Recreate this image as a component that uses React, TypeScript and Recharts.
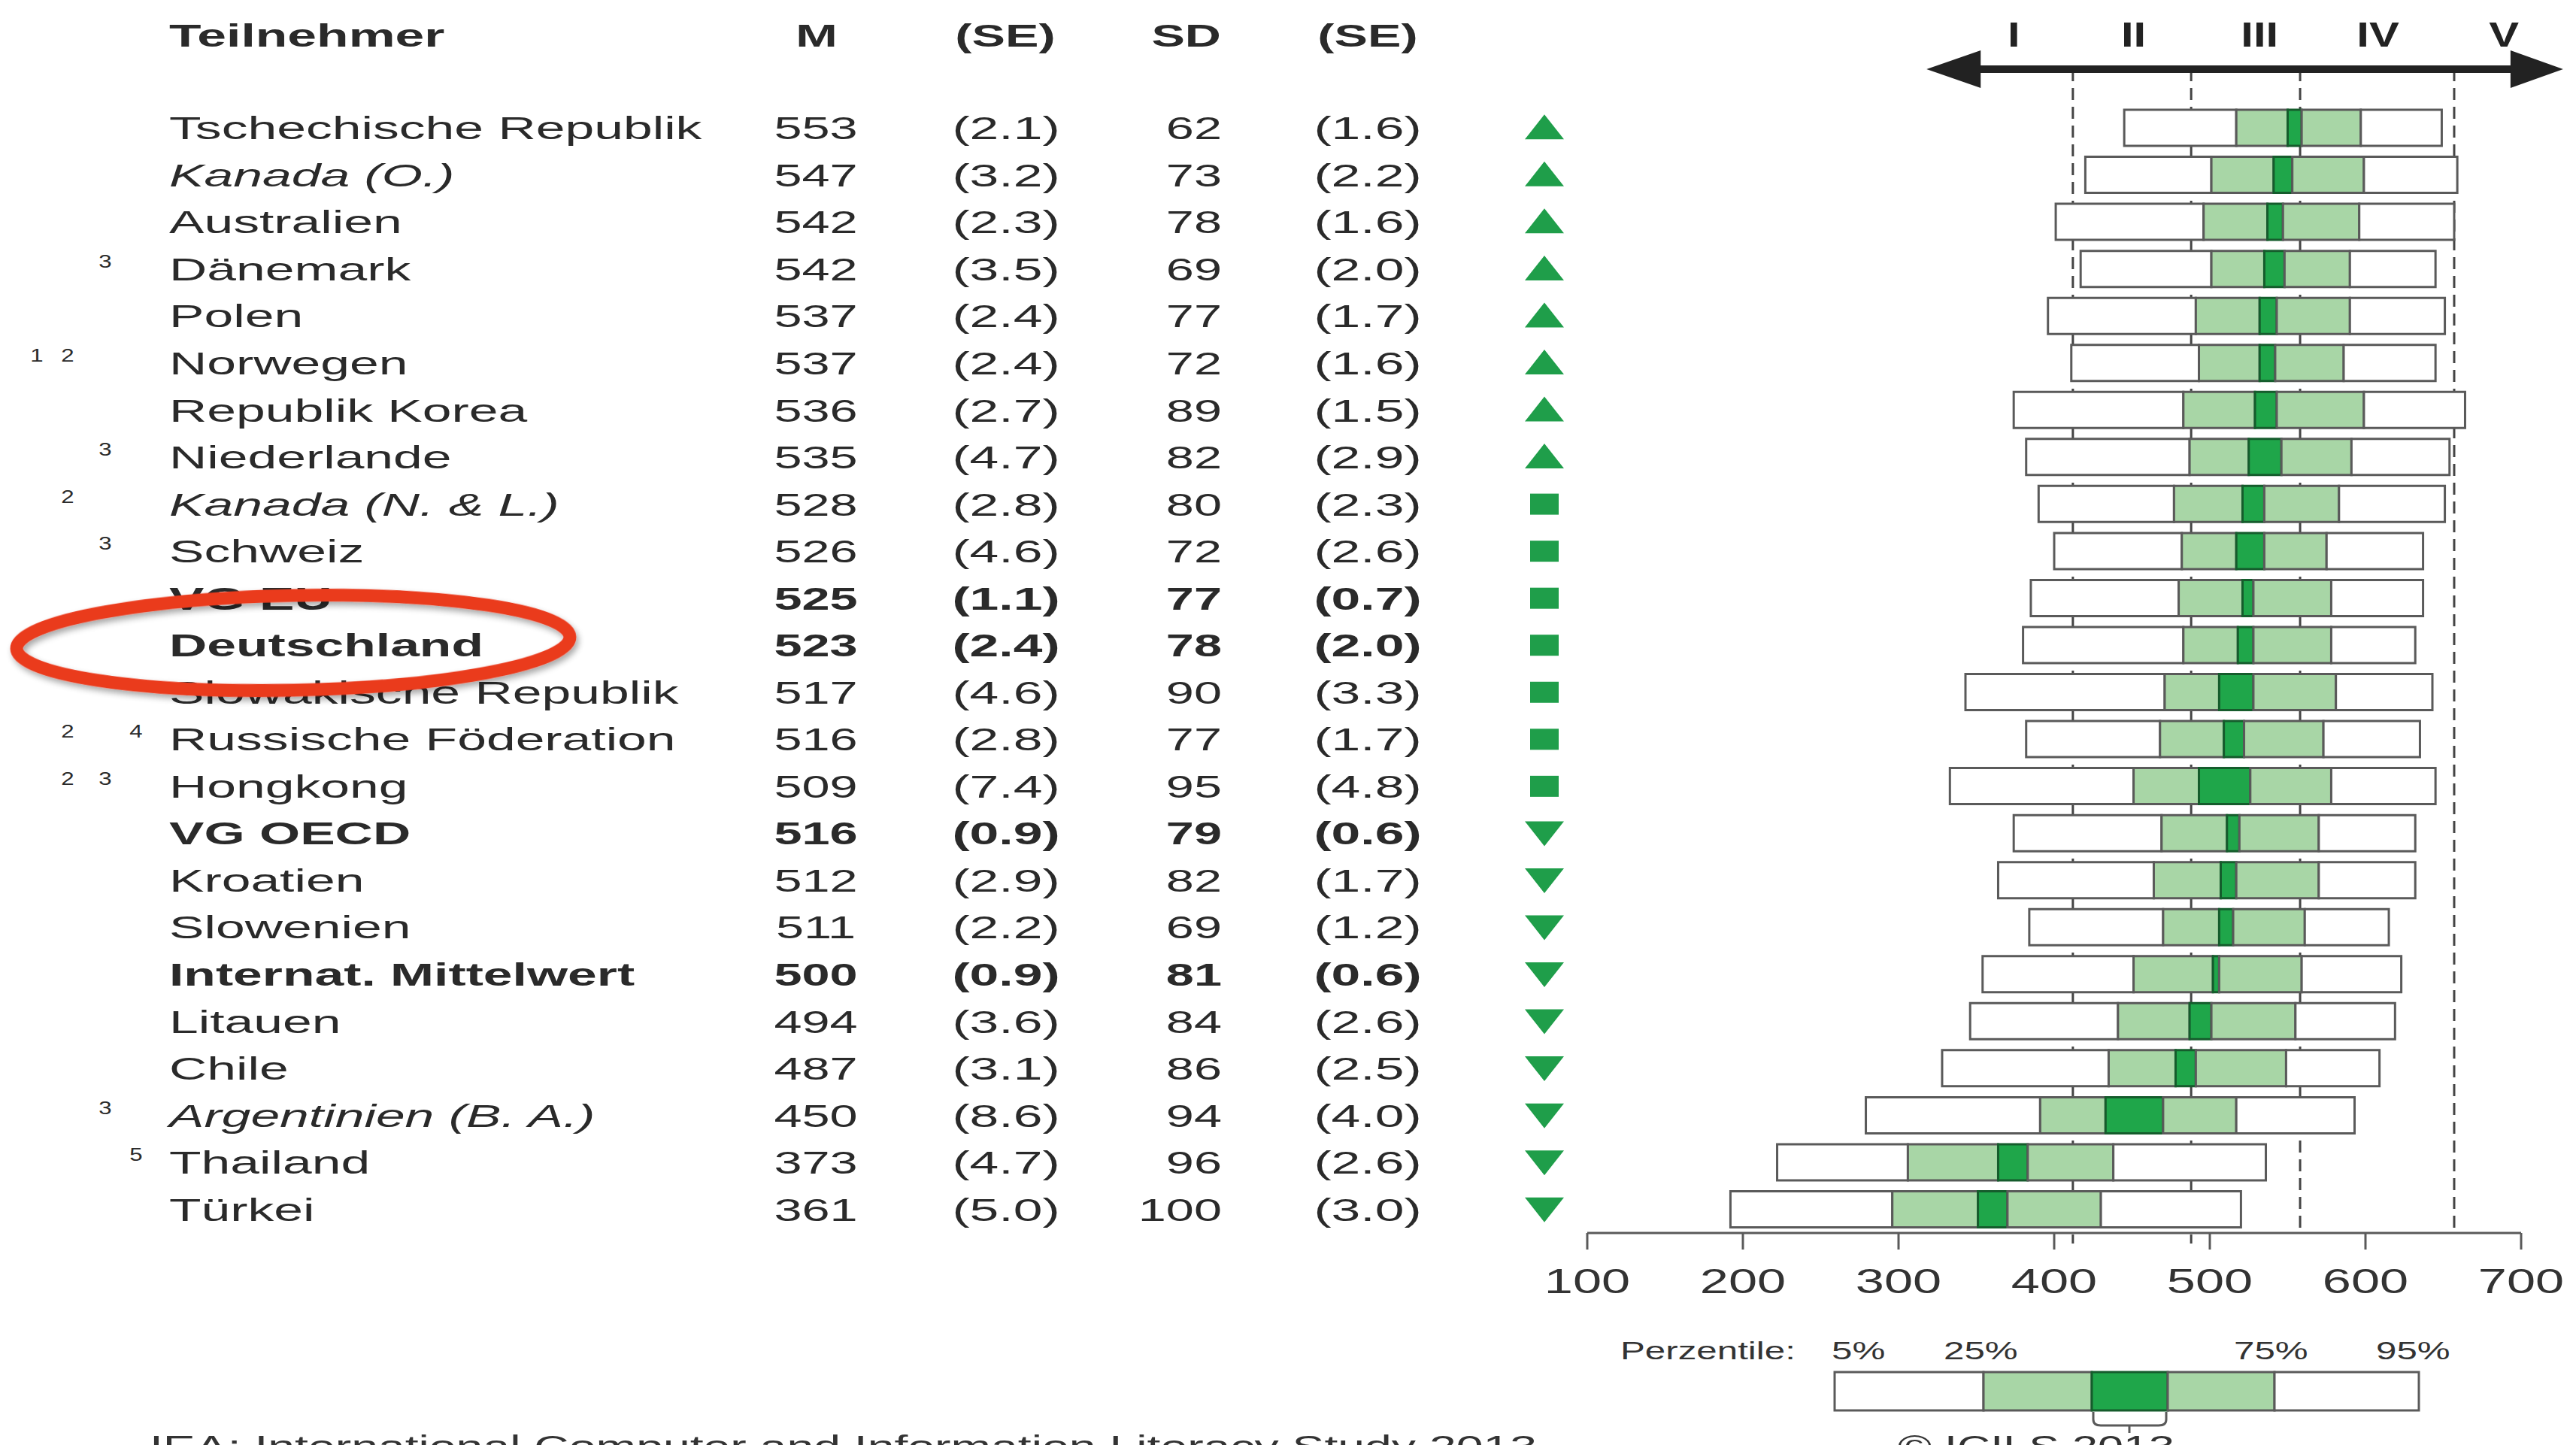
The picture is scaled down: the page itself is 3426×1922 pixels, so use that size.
import React from 'react';
import { BarChart, Bar, XAxis, YAxis, ReferenceLine, ReferenceArea } from 'recharts';

// ---------- data ----------
const countries = [
  'Tschechische Republik', 'Kanada (O.)', 'Australien', 'Dänemark', 'Polen', 'Norwegen',
  'Republik Korea', 'Niederlande', 'Kanada (N. & L.)', 'Schweiz', 'VG EU', 'Deutschland',
  'Slowakische Republik', 'Russische Föderation', 'Hongkong', 'VG OECD', 'Kroatien',
  'Slowenien', 'Internat. Mittelwert', 'Litauen', 'Chile', 'Argentinien (B. A.)', 'Thailand', 'Türkei',
];
const footnotes = ['', '', '', '3', '', '1 2', '', '3', '2', '3', '', '', '', '2 4', '2 3', '', '', '', '', '', '', '3', '5', ''];
const textStyles = ['n', 'i', 'n', 'n', 'n', 'n', 'n', 'n', 'i', 'n', 'b', 'b', 'n', 'n', 'n', 'b', 'n', 'n', 'b', 'n', 'n', 'i', 'n', 'n'];
const meanValues = [553, 547, 542, 542, 537, 537, 536, 535, 528, 526, 525, 523, 517, 516, 509, 516, 512, 511, 500, 494, 487, 450, 373, 361];
const meanSE = [2.1, 3.2, 2.3, 3.5, 2.4, 2.4, 2.7, 4.7, 2.8, 4.6, 1.1, 2.4, 4.6, 2.8, 7.4, 0.9, 2.9, 2.2, 0.9, 3.6, 3.1, 8.6, 4.7, 5.0];
const sdValues = [62, 73, 78, 69, 77, 72, 89, 82, 80, 72, 77, 78, 90, 77, 95, 79, 82, 69, 81, 84, 86, 94, 96, 100];
const sdSE = [1.6, 2.2, 1.6, 2.0, 1.7, 1.6, 1.5, 2.9, 2.3, 2.6, 0.7, 2.0, 3.3, 1.7, 4.8, 0.6, 1.7, 1.2, 0.6, 2.6, 2.5, 4.0, 2.6, 3.0];
const trend = ['up', 'up', 'up', 'up', 'up', 'up', 'up', 'up', 'eq', 'eq', 'eq', 'eq', 'eq', 'eq', 'eq', 'down', 'down', 'down', 'down', 'down', 'down', 'down', 'down', 'down'];

const p5 = [445, 420, 401, 417, 396, 411, 374, 382, 390, 400, 385, 380, 343, 382, 333, 374, 364, 384, 354, 346, 328, 279, 222, 192];
const p25 = [517, 501, 496, 501, 491, 493, 483, 487, 477, 482, 480, 483, 471, 468, 451, 469, 464, 470, 451, 441, 435, 391, 306, 296];
const ciLow = [550, 541, 537, 535, 532, 532, 529, 525, 521, 517, 521, 518, 506, 509, 493, 511, 507, 506, 502, 487, 478, 433, 364, 351];
const ciHigh = [559, 553, 547, 548, 543, 542, 543, 546, 535, 535, 528, 528, 528, 522, 526, 519, 517, 515, 506, 501, 491, 470, 383, 370];
const p75 = [597, 599, 596, 590, 590, 586, 599, 591, 583, 575, 578, 578, 581, 573, 578, 570, 570, 561, 559, 555, 549, 517, 438, 430];
const p95 = [649, 659, 657, 645, 651, 645, 664, 654, 651, 637, 637, 632, 643, 635, 645, 632, 632, 615, 623, 619, 609, 593, 536, 520];

const xTicks = [100, 200, 300, 400, 500, 600, 700];
const levelLines = [412, 488, 558, 657];
const levelLineExtend = [14, 14, 0, 0];
const levelLabels = ['I', 'II', 'III', 'IV', 'V'];
const levelLabelPos = [374, 451, 532, 608, 689];
const arrowRange = [318, 727];

const data = countries.map((name, i) => ({
  name,
  s0: p5[i],
  s1: p25[i] - p5[i],
  s2: ciLow[i] - p25[i],
  s3: ciHigh[i] - ciLow[i],
  s4: p75[i] - ciHigh[i],
  s5: p95[i] - p75[i],
}));

// ---------- styling ----------
const W = 3426;
const H = 1922;
const FONT = "'Liberation Sans', Arial, Helvetica, sans-serif";
const INK = '#2a2a2a';
const LIGHT = '#a8d6a6';
const DARK = '#1fa64a';
const EDGE = '#5a5a5a';
const ARROW_Y = 92;
const PLOT_TOP = 139;
const PLOT_BOTTOM = 1640;
const XAXIS_H = 100;
const Y_AXIS_W = 2111;
const MARGIN = { top: PLOT_TOP, right: 73, left: 0, bottom: H - PLOT_BOTTOM - XAXIS_H };

type STProps = {
  x: number; y: number; children: React.ReactNode; size?: number; sx?: number;
  anchor?: 'start' | 'middle' | 'end'; bold?: boolean; italic?: boolean; fill?: string;
};
const ST = ({ x, y, children, size = 43, sx = 1.6, anchor = 'start', bold = false, italic = false, fill = INK }: STProps) => (
  <text
    transform={`translate(${x} ${y}) scale(${sx} 1)`}
    textAnchor={anchor}
    fontSize={size}
    fontWeight={bold ? 'bold' : 'normal'}
    fontStyle={italic ? 'italic' : 'normal'}
    fontFamily={FONT}
    fill={fill}
  >
    {children}
  </text>
);

const footCol: Record<string, number> = { '1': 49, '2': 90, '3': 140, '4': 181, '5': 181 };

const RowTick = (props: any) => {
  const { y, payload } = props;
  const i = countries.indexOf(payload.value);
  if (i < 0) return null;
  const st = textStyles[i];
  const bold = st === 'b';
  const italic = st === 'i';
  const base = y + 15;
  const cx = 2054;
  let marker;
  if (trend[i] === 'up') {
    marker = <polygon points={`${cx - 26},${y + 15} ${cx + 26},${y + 15} ${cx},${y - 18}`} fill="#1f9e4a" />;
  } else if (trend[i] === 'down') {
    marker = <polygon points={`${cx - 26},${y - 16} ${cx + 26},${y - 16} ${cx},${y + 17}`} fill="#1f9e4a" />;
  } else {
    marker = <rect x={cx - 19} y={y - 14} width={38} height={28} fill="#1f9e4a" />;
  }
  const notes = footnotes[i] ? footnotes[i].split(' ') : [];
  return (
    <g>
      {notes.map((n) => (
        <ST key={n} x={footCol[n]} y={y - 2} size={24} sx={1.3} anchor="middle">{n}</ST>
      ))}
      <ST x={225} y={base} bold={bold} italic={italic} sx={1.62}>{payload.value}</ST>
      <ST x={1085} y={base} bold={bold} anchor="middle" sx={1.55}>{meanValues[i]}</ST>
      <ST x={1338} y={base} bold={bold} anchor="middle" sx={1.62}>{`(${meanSE[i].toFixed(1)})`}</ST>
      <ST x={1625} y={base} bold={bold} anchor="end" sx={1.55}>{sdValues[i]}</ST>
      <ST x={1819} y={base} bold={bold} anchor="middle" sx={1.62}>{`(${sdSE[i].toFixed(1)})`}</ST>
      {marker}
    </g>
  );
};

const XTick = (props: any) => {
  const { x, payload } = props;
  return <ST x={x} y={1720} size={46} sx={1.49} anchor="middle" fill="#333">{payload.value}</ST>;
};

const Overlay = () => (
  <svg width={W} height={H} style={{ position: 'absolute', left: 0, top: 0, pointerEvents: 'none' }}>
    <defs>
      <filter id="sh" x="-10%" y="-30%" width="120%" height="160%">
        <feGaussianBlur in="SourceAlpha" stdDeviation="4" />
        <feOffset dx="3" dy="5" result="b" />
        <feComponentTransfer><feFuncA type="linear" slope="0.35" /></feComponentTransfer>
        <feMerge><feMergeNode /><feMergeNode in="SourceGraphic" /></feMerge>
      </filter>
    </defs>
    {/* headers */}
    <ST x={225} y={62} bold sx={1.62}>Teilnehmer</ST>
    <ST x={1086} y={62} bold anchor="middle" sx={1.55}>M</ST>
    <ST x={1337} y={62} bold anchor="middle" sx={1.55}>(SE)</ST>
    <ST x={1624} y={62} bold anchor="end" sx={1.55}>SD</ST>
    <ST x={1819} y={62} bold anchor="middle" sx={1.55}>(SE)</ST>

    {/* legend */}
    <ST x={2155} y={1808} size={34} sx={1.45} fill="#333">Perzentile:</ST>
    <ST x={2436} y={1808} size={34} sx={1.45} fill="#333">5%</ST>
    <ST x={2585} y={1808} size={34} sx={1.45} fill="#333">25%</ST>
    <ST x={2971} y={1808} size={34} sx={1.45} fill="#333">75%</ST>
    <ST x={3160} y={1808} size={34} sx={1.45} fill="#333">95%</ST>
    <rect x={2440} y={1825} width={198} height={51} fill="#fff" stroke={EDGE} strokeWidth={3} />
    <rect x={2638} y={1825} width={144} height={51} fill={LIGHT} stroke={EDGE} strokeWidth={3} />
    <rect x={2782} y={1825} width={101} height={51} fill={DARK} stroke="#155c2c" strokeWidth={3} />
    <rect x={2883} y={1825} width={142} height={51} fill={LIGHT} stroke={EDGE} strokeWidth={3} />
    <rect x={3025} y={1825} width={192} height={51} fill="#fff" stroke={EDGE} strokeWidth={3} />
    <path d="M2784 1878 L2784 1888 Q2784 1896 2794 1896 L2832 1896 L2832 1906 M2832 1896 L2871 1896 Q2881 1896 2881 1888 L2881 1878" fill="none" stroke={EDGE} strokeWidth={3} />

    {/* footer lines, cut off at the bottom edge as in the reference */}
    <text x={199} y={1938} fontSize={40} fontFamily={FONT} fill="#333" textLength={1845} lengthAdjust="spacingAndGlyphs">
      IEA: International Computer and Information Literacy Study 2013
    </text>
    <text x={2524} y={1938} fontSize={40} fontFamily={FONT} fill="#333" textLength={368} lengthAdjust="spacingAndGlyphs">
      © ICILS 2013
    </text>

    {/* red highlight ellipse */}
    <ellipse cx={390} cy={855} rx={368} ry={63} fill="none" stroke="#ea3a1f" strokeWidth={17}
      transform="rotate(-1.2 390 855)" filter="url(#sh)" />
  </svg>
);

// Background layer: competence-level dashed lines (drawn underneath the boxes)
const LevelLines = () => (
  <div style={{ position: 'absolute', left: 0, top: 0 }}>
    <BarChart width={W} height={H} data={data} layout="vertical" margin={MARGIN}>
      <XAxis type="number" domain={[100, 700]} ticks={xTicks} allowDataOverflow height={XAXIS_H}
        tick={false} tickLine={false} axisLine={false} />
      <YAxis type="category" dataKey="name" width={Y_AXIS_W} tick={false} tickLine={false} axisLine={false} />
      {levelLines.map((v, i) => (
        <ReferenceLine
          key={v}
          x={v}
          stroke="#444"
          strokeWidth={3}
          strokeDasharray="16 9"
          shape={(p: any) => (
            <line x1={p.x1} x2={p.x2} y1={ARROW_Y} y2={Math.max(p.y1, p.y2) + levelLineExtend[i]}
              stroke="#444" strokeWidth={3} strokeDasharray="16 9" />
          )}
        />
      ))}
    </BarChart>
  </div>
);

export default function App() {
  return (
    <div style={{ position: 'absolute', left: 0, top: 0, width: W, height: H, overflow: 'hidden', background: '#fff' }}>
      <LevelLines />
      <div style={{ position: 'absolute', left: 0, top: 0 }}>
        <BarChart width={W} height={H} data={data} layout="vertical" margin={MARGIN} barSize={48}>
          <XAxis
            type="number"
            domain={[100, 700]}
            ticks={xTicks}
            allowDataOverflow
            height={XAXIS_H}
            tickSize={22}
            tickLine={{ stroke: EDGE, strokeWidth: 3 }}
            axisLine={{ stroke: EDGE, strokeWidth: 3 }}
            tick={<XTick />}
            interval={0}
          />
          <YAxis
            type="category"
            dataKey="name"
            width={Y_AXIS_W}
            interval={0}
            tickLine={false}
            axisLine={false}
            tick={<RowTick />}
          />
          {levelLabels.map((lab, i) => (
            <ReferenceLine
              key={lab}
              x={levelLabelPos[i]}
              stroke="none"
              shape={(p: any) => (
                <ST x={p.x1} y={62} size={46} bold anchor="middle" sx={1.3} fill="#222">{lab}</ST>
              )}
            />
          ))}
          <ReferenceArea
            x1={arrowRange[0]}
            x2={arrowRange[1]}
            ifOverflow="visible"
            shape={(p: any) => {
              const l = p.x;
              const r = p.x + p.width;
              return (
                <g>
                  <line x1={l + 50} x2={r - 50} y1={ARROW_Y} y2={ARROW_Y} stroke="#222" strokeWidth={10} />
                  <polygon points={`${l},${ARROW_Y} ${l + 72},${ARROW_Y - 25} ${l + 72},${ARROW_Y + 25}`} fill="#222" />
                  <polygon points={`${r},${ARROW_Y} ${r - 70},${ARROW_Y - 25} ${r - 70},${ARROW_Y + 25}`} fill="#222" />
                </g>
              );
            }}
          />
          <Bar dataKey="s0" stackId="a" fill="transparent" stroke="none" isAnimationActive={false} />
          <Bar dataKey="s1" stackId="a" fill="#ffffff" stroke={EDGE} strokeWidth={3} isAnimationActive={false} />
          <Bar dataKey="s2" stackId="a" fill={LIGHT} stroke={EDGE} strokeWidth={3} isAnimationActive={false} />
          <Bar dataKey="s3" stackId="a" fill={DARK} stroke="#155c2c" strokeWidth={3} isAnimationActive={false} />
          <Bar dataKey="s4" stackId="a" fill={LIGHT} stroke={EDGE} strokeWidth={3} isAnimationActive={false} />
          <Bar dataKey="s5" stackId="a" fill="#ffffff" stroke={EDGE} strokeWidth={3} isAnimationActive={false} />
        </BarChart>
      </div>
      <Overlay />
    </div>
  );
}
